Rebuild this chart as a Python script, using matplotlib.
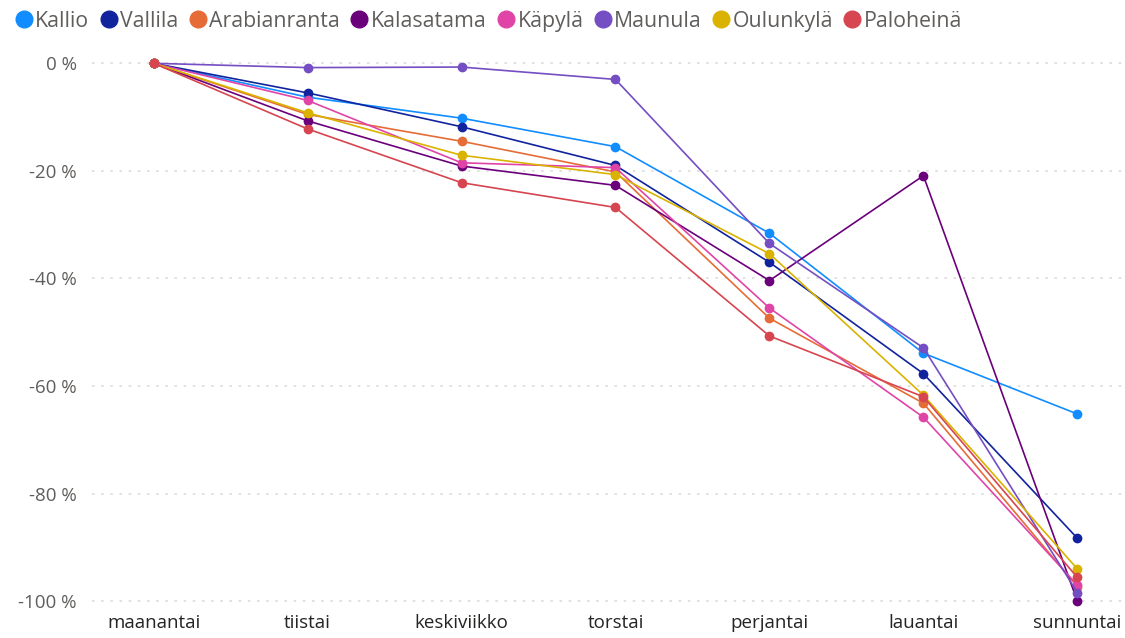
import matplotlib
matplotlib.use("Agg")
import matplotlib.pyplot as plt
from matplotlib.lines import Line2D
from matplotlib.ticker import FuncFormatter

plt.rcParams['font.family'] = ['Open Sans', 'DejaVu Sans']

days = ["maanantai", "tiistai", "keskiviikko", "torstai", "perjantai", "lauantai", "sunnuntai"]

Kallio       = [0, -6.3, -10.2, -15.5, -31.6, -53.9, -65.2]
Vallila      = [0, -5.5, -11.8, -19.0, -37.0, -57.7, -88.3]
Arabianranta = [0, -9.5, -14.5, -20.2, -47.4, -63.2, -97.3]
Kalasatama   = [0, -10.7, -19.1, -22.7, -40.4, -20.9, -100.0]
Kapyla       = [0, -6.9, -18.5, -19.4, -45.5, -65.8, -97.0]
Maunula      = [0, -0.8, -0.7, -3.0, -33.5, -52.9, -98.4]
Oulunkyla    = [0, -9.2, -17.1, -20.7, -35.4, -61.7, -94.0]
Paloheina    = [0, -12.2, -22.2, -26.8, -50.7, -62.0, -95.6]

series = [
    ("Kallio", Kallio, "#118DFF"),
    ("Vallila", Vallila, "#12239E"),
    ("Arabianranta", Arabianranta, "#E66C37"),
    ("Kalasatama", Kalasatama, "#6B007B"),
    ("Käpylä", Kapyla, "#E044A7"),
    ("Maunula", Maunula, "#744EC2"),
    ("Oulunkylä", Oulunkyla, "#D9B300"),
    ("Paloheinä", Paloheina, "#D64550"),
]

fig = plt.figure(figsize=(11.25, 6.38), dpi=100)
W, H = 1125, 638
ax = fig.add_axes([92 / W, (H - 606) / H, (1122 - 92) / W, (606 - 45) / H])

x = list(range(len(days)))
for name, vals, col in series:
    ax.plot(x, vals, color=col, lw=1.2, marker="o", ms=6, mec=col, mfc=col, zorder=3)

ax.set_xlim(-0.4, 6.29)
ax.set_ylim(-100.9, 3.4)
ax.set_yticks([0, -20, -40, -60, -80, -100])
ax.yaxis.set_major_formatter(FuncFormatter(lambda v, p: f"{int(v)} %"))
ax.set_xticks(x)
ax.set_xticklabels(days)
ax.tick_params(axis="both", length=0)
ax.tick_params(axis="y", colors="#605E5C", pad=11, labelsize=13.5)
ax.tick_params(axis="x", colors="#252423", pad=6, labelsize=13.5)
for lab in ax.get_yticklabels():
    lab.set_color("#605E5C")
for lab in ax.get_xticklabels():
    lab.set_color("#252423")
ax.grid(axis="y", color="#DDDBD9", linestyle=(0, (1.5, 4)), lw=1.2)
ax.set_axisbelow(True)
for s in ax.spines.values():
    s.set_visible(False)

handles = [Line2D([0], [0], marker="o", color="none", mfc=c, mec=c, ms=12) for _, _, c in series]
labels = [n for n, _, _ in series]
leg = fig.legend(handles, labels, loc="upper left", bbox_to_anchor=(0.004, 1.0), ncol=8,
                 frameon=False, handletextpad=0.15, columnspacing=0.5, handlelength=0.8,
                 fontsize=15.3, borderaxespad=0.2, borderpad=0.3)
for t in leg.get_texts():
    t.set_color("#605E5C")

fig.savefig("out.png", dpi=100)
